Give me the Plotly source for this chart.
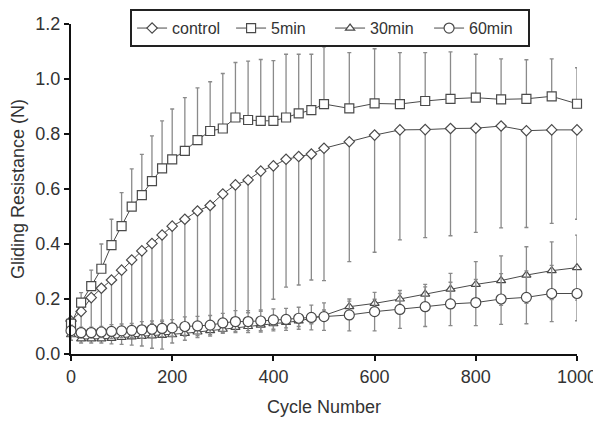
import plotly.graph_objects as go

cycles = [0, 20, 40, 60, 80, 100, 120, 140, 160, 180, 200, 225, 250, 275, 300, 325, 350,
          375, 400, 425, 450, 475, 500, 550, 600, 650, 700, 750, 800, 850, 900, 950, 1000]

control = [0.12, 0.155, 0.205, 0.239, 0.269, 0.305, 0.342, 0.375, 0.402, 0.433, 0.465,
           0.49, 0.52, 0.54, 0.582, 0.615, 0.633, 0.665, 0.684, 0.708, 0.718, 0.727, 0.748,
           0.772, 0.796, 0.815, 0.816, 0.82, 0.821, 0.829, 0.812, 0.815, 0.815]
control_sd = [0.02, 0.065, 0.115, 0.149, 0.179, 0.215, 0.252, 0.285, 0.312, 0.343, 0.375,
              0.39, 0.42, 0.44, 0.472, 0.495, 0.483, 0.51, 0.485, 0.465, 0.467, 0.458, 0.481,
              0.436, 0.426, 0.4, 0.393, 0.39, 0.379, 0.37, 0.352, 0.34, 0.325]

min5 = [0.11, 0.187, 0.247, 0.31, 0.396, 0.465, 0.536, 0.578, 0.629, 0.675, 0.708,
        0.739, 0.778, 0.811, 0.82, 0.86, 0.851, 0.848, 0.848, 0.86, 0.875, 0.887, 0.909,
        0.893, 0.911, 0.909, 0.92, 0.928, 0.932, 0.926, 0.928, 0.937, 0.91]
min5_sd = [0.02, 0.036, 0.058, 0.09, 0.094, 0.122, 0.137, 0.148, 0.164, 0.173, 0.183,
           0.193, 0.19, 0.179, 0.2, 0.2, 0.214, 0.223, 0.219, 0.23, 0.215, 0.203, 0.208,
           0.203, 0.199, 0.187, 0.176, 0.171, 0.158, 0.147, 0.142, 0.136, 0.131]

min30 = [0.07, 0.055, 0.055, 0.055, 0.057, 0.06, 0.062, 0.064, 0.066, 0.068, 0.07,
         0.075, 0.08, 0.085, 0.09, 0.097, 0.1, 0.105, 0.11, 0.115, 0.12, 0.13, 0.14,
         0.172, 0.184, 0.2, 0.218, 0.236, 0.253, 0.267, 0.287, 0.303, 0.314]
min30_sd = [0.02, 0.015, 0.015, 0.015, 0.02, 0.025, 0.03, 0.035, 0.045, 0.05, 0.03,
            0.025, 0.02, 0.02, 0.015, 0.015, 0.015, 0.02, 0.02, 0.02, 0.02, 0.02, 0.02,
            0.02, 0.015, 0.02, 0.035, 0.057, 0.083, 0.09, 0.103, 0.105, 0.118]

min60 = [0.085, 0.078, 0.078, 0.08, 0.082, 0.084, 0.086, 0.088, 0.09, 0.093, 0.095,
         0.1, 0.102, 0.105, 0.113, 0.118, 0.118, 0.12, 0.124, 0.126, 0.13, 0.133, 0.136,
         0.142, 0.154, 0.162, 0.172, 0.182, 0.187, 0.2, 0.206, 0.22, 0.22]
min60_sd = [0.02, 0.02, 0.02, 0.02, 0.025, 0.025, 0.025, 0.03, 0.03, 0.03, 0.03,
            0.035, 0.035, 0.035, 0.035, 0.04, 0.04, 0.04, 0.04, 0.04, 0.04, 0.045, 0.05,
            0.058, 0.07, 0.069, 0.072, 0.079, 0.084, 0.092, 0.096, 0.102, 0.099]

ink = "#4a4a4a"
bar = "#8a8a8a"

def add_series(fig, name, y, sd, symbol, size, up=True, down=True):
    err = dict(type="data", symmetric=False, color=bar, thickness=1.3, width=2,
               array=sd if up else [0] * len(sd),
               arrayminus=sd if down else [0] * len(sd))
    fig.add_trace(go.Scatter(
        x=cycles, y=y, name=name, mode="lines+markers",
        line=dict(color=ink, width=1),
        marker=dict(symbol=symbol, size=size, color="white",
                    line=dict(color=ink, width=1.2)),
        error_y=err, cliponaxis=False))

fig = go.Figure()
add_series(fig, "control", control, control_sd, "diamond", 8, up=False)
add_series(fig, "5min", min5, min5_sd, "square", 9, down=False)
add_series(fig, "30min", min30, min30_sd, "triangle-up", 8)
add_series(fig, "60min", min60, min60_sd, "circle", 10)

# page body has an 8px margin, so the figure is a bit smaller than the window
font = "Liberation Sans, Arial, sans-serif"
fig.update_layout(
    width=593, height=414,
    margin=dict(l=63, r=24, t=16, b=68, autoexpand=False),
    paper_bgcolor="white", plot_bgcolor="white",
    font=dict(family=font, size=16, color="#333"),
    showlegend=True,
    legend=dict(orientation="h", x=0.512, xanchor="center", y=1.045, yanchor="top",
                bordercolor="#222", borderwidth=2, bgcolor="white",
                font=dict(size=16, color="#333"),
                entrywidth=54, itemwidth=30),
    xaxis=dict(range=[0, 1000], tickvals=[0, 200, 400, 600, 800, 1000],
               showline=True, linecolor="#111", linewidth=2, ticks="outside",
               ticklen=5, tickwidth=2, tickcolor="#111", showgrid=False, zeroline=False,
               tickfont=dict(size=18, color="#333"), automargin=False,
               title=dict(text="Cycle Number", font=dict(size=18, color="#333"), standoff=15)),
    yaxis=dict(range=[0, 1.2], tickvals=[0, 0.2, 0.4, 0.6, 0.8, 1.0, 1.2],
               tickformat=".1f", automargin=False,
               showline=True, linecolor="#111", linewidth=2, ticks="outside",
               ticklen=5, tickwidth=2, tickcolor="#111", showgrid=False, zeroline=False,
               tickfont=dict(size=18, color="#333"),
               title=dict(text="Gliding Resistance (N)", font=dict(size=18, color="#333"),
                          standoff=10)),
)

fig.write_html("out.html")
